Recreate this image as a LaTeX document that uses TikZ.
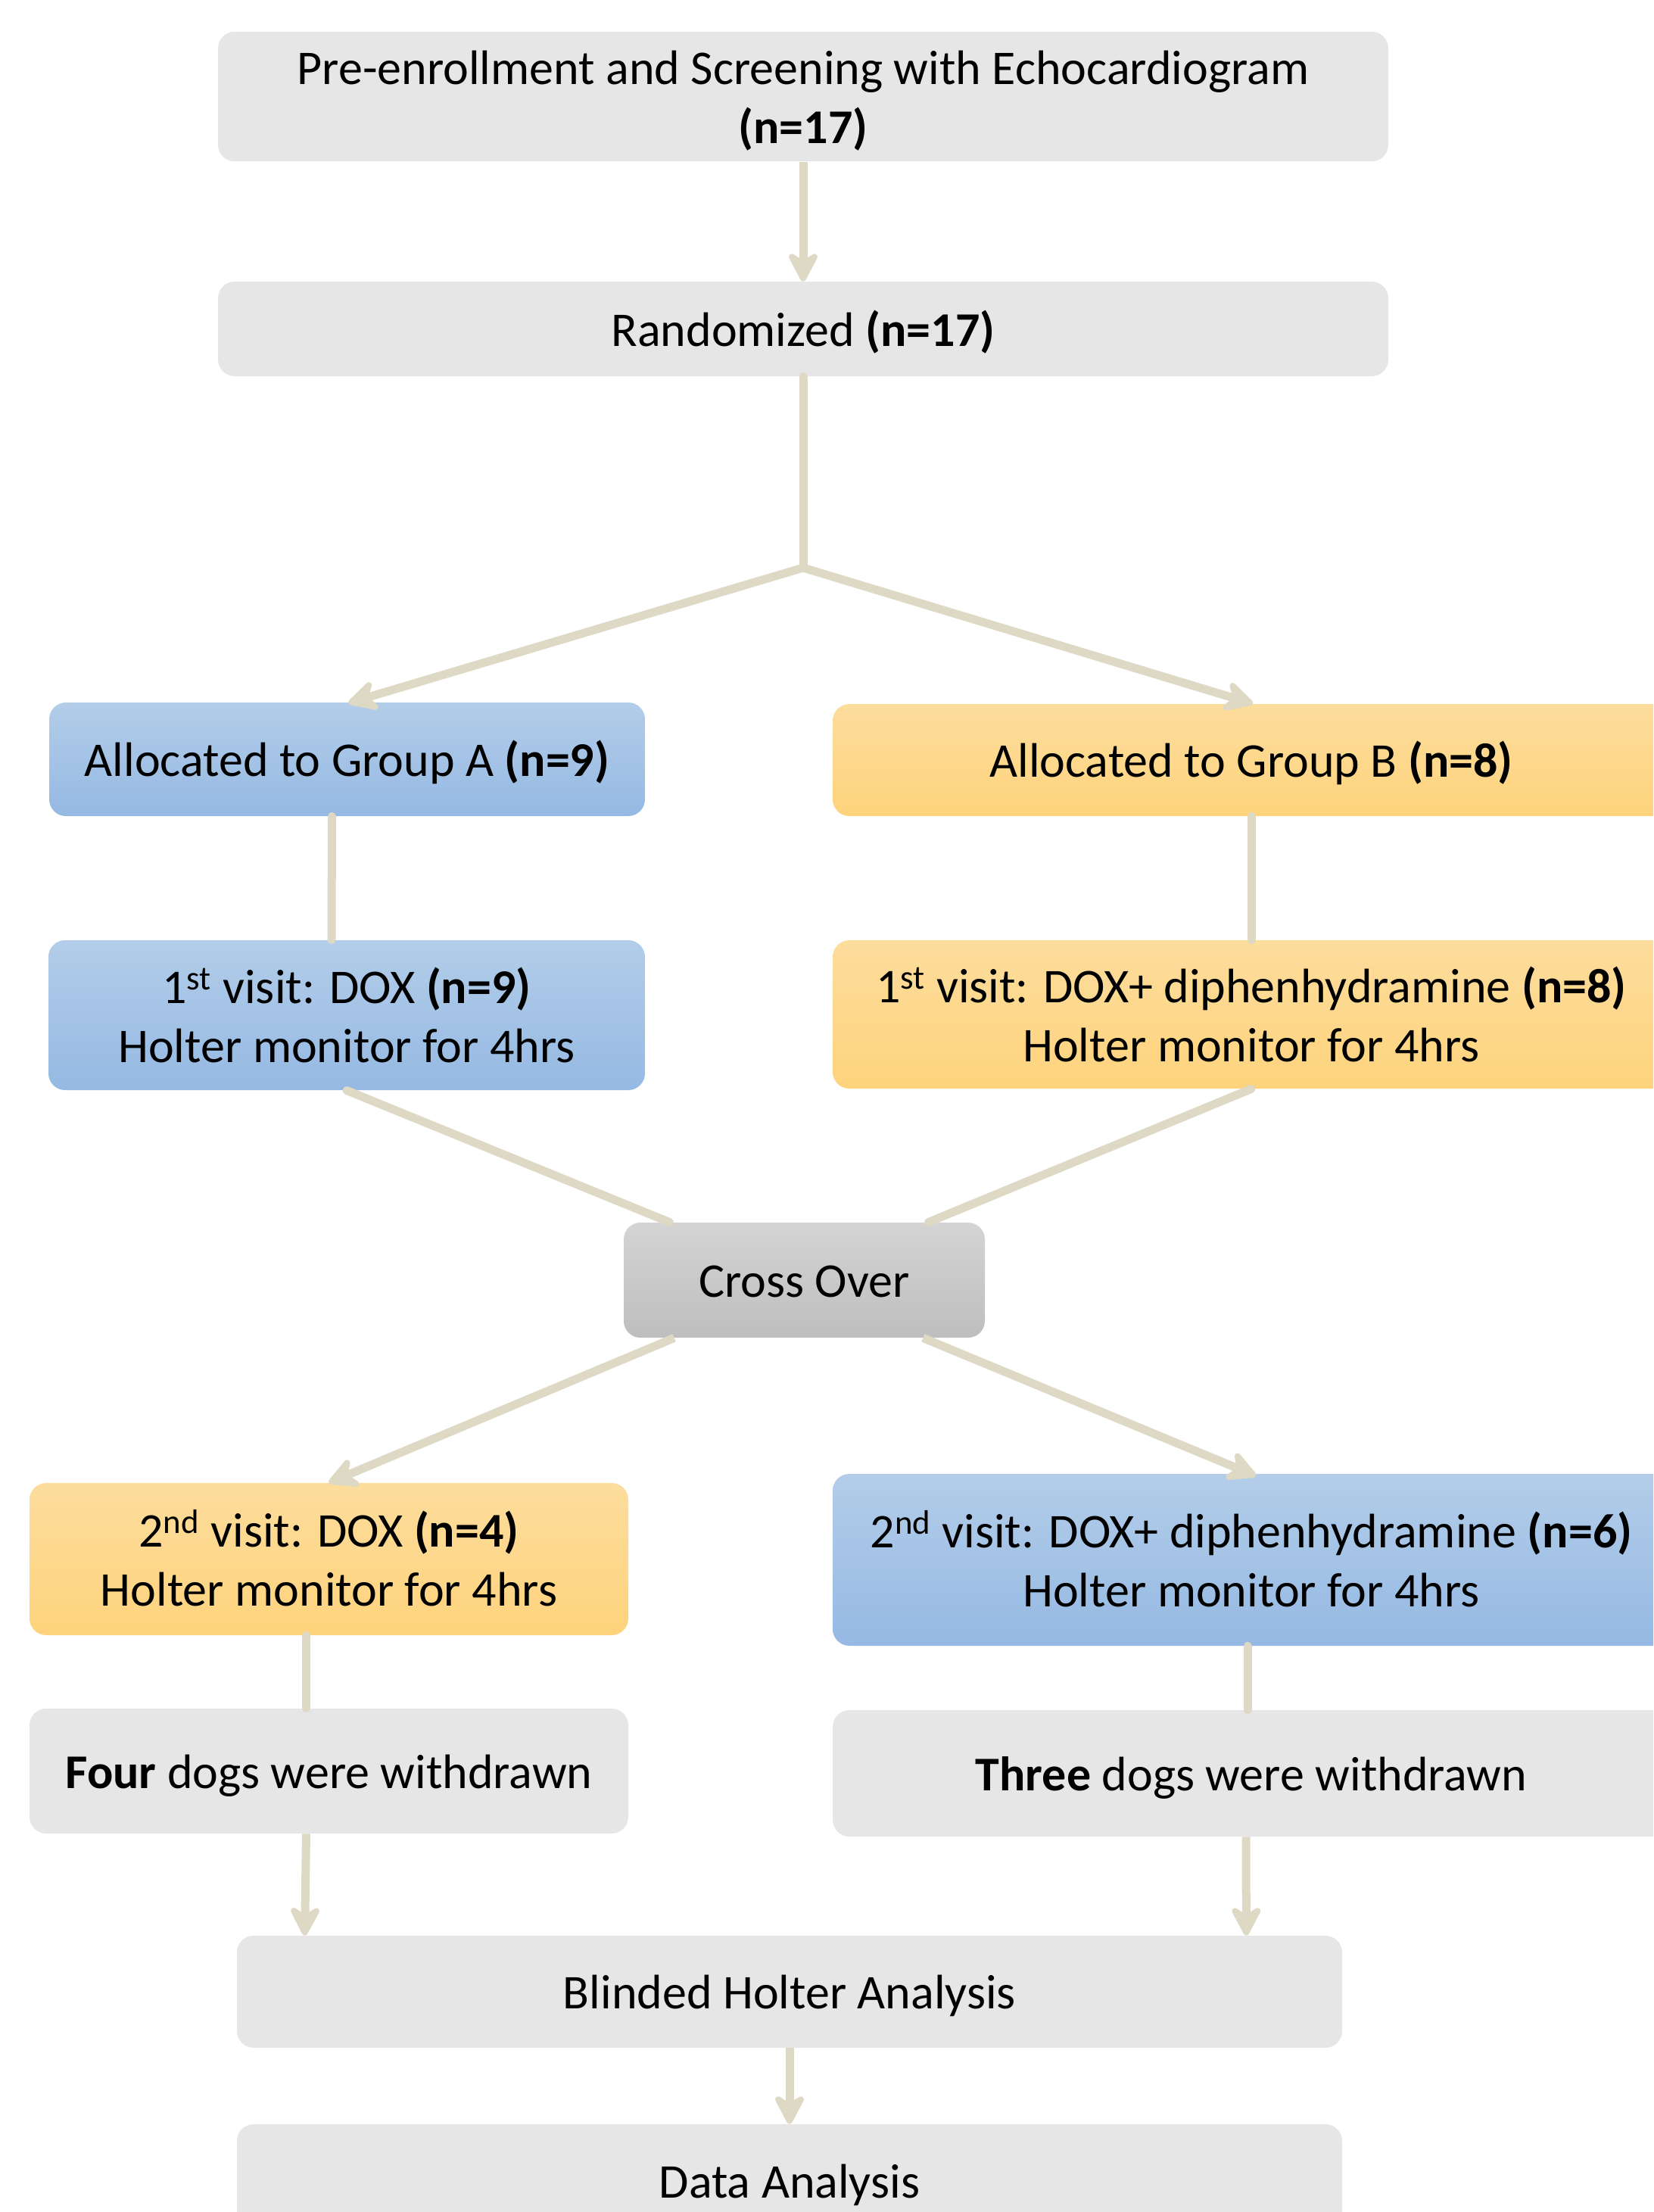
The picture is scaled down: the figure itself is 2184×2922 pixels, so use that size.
\documentclass[tikz,border=0pt]{standalone}
\usepackage{fontspec}
\setmainfont{Carlito}
\usetikzlibrary{arrows.meta}
\definecolor{conn}{HTML}{DDD9C4}
\definecolor{boxgray}{HTML}{E6E6E6}
\definecolor{blueT}{RGB}{179,205,233}
\definecolor{blueB}{RGB}{149,185,227}
\definecolor{orT}{RGB}{253,221,157}
\definecolor{orB}{RGB}{254,211,124}
\definecolor{crT}{RGB}{212,212,212}
\definecolor{crB}{RGB}{190,190,190}
\newcommand{\bxstrut}{\rule[-8pt]{0pt}{38.6pt}}
\newcommand{\twol}[2]{\begin{tabular}{@{}c@{}}\rule{0pt}{35pt}#1\\#2\end{tabular}}
\begin{document}
\begin{tikzpicture}[x=0.5pt,y=-0.5pt,
 box/.style={rounded corners=11pt, inner sep=0pt, align=center, font=\fontsize{32}{39}\selectfont,
   execute at begin node=\bxstrut, execute at end node=\bxstrut},
 graybox/.style={box, fill=boxgray},
 bluebox/.style={box, top color=blueT, bottom color=blueB},
 orbox/.style={box, top color=orT, bottom color=orB},
 crossbox/.style={box, top color=crT, bottom color=crB},
 conline/.style={draw=conn, line width=5.5pt, line cap=round},
 conarrow/.style={draw=conn, line width=5.5pt, -{Stealth[length=24pt,width=25pt,inset=8pt,round]}},
]
\useasboundingbox (0,0) rectangle (2184,2922);
\clip (0,0) rectangle (2184,2922);

\node[graybox, minimum width=773pt, minimum height=84.5pt] (pre) at (1061,127.5)
  {\twol{Pre-enrollment and Screening with Echocardiogram}{\textbf{(n=17)}}};
\node[graybox, minimum width=773pt, minimum height=62.5pt] (rand) at (1061,434.5)
  {Randomized \textbf{(n=17)}};
\coordinate (junc) at (1061,750);
\node[bluebox, minimum width=393.5pt, minimum height=75pt] (grpA) at (458.5,1003)
  {Allocated to Group A \textbf{(n=9)}};
\node[orbox, minimum width=553pt, minimum height=74pt] (grpB) at (1653,1004)
  {Allocated to Group B \textbf{(n=8)}};
\node[bluebox, minimum width=394pt, minimum height=99pt] (v1A) at (458,1341)
  {\twol{1\textsuperscript{st} visit: DOX \textbf{(n=9)}}{Holter monitor for 4hrs}};
\node[orbox, minimum width=553pt, minimum height=98pt] (v1B) at (1653,1340)
  {\twol{1\textsuperscript{st} visit: DOX+ diphenhydramine \textbf{(n=8)}}{Holter monitor for 4hrs}};
\node[crossbox, minimum width=238.5pt, minimum height=76pt] (cross) at (1062.5,1691)
  {Cross Over};
\node[orbox, minimum width=395.5pt, minimum height=100.5pt] (v2A) at (434.5,2059.5)
  {\twol{2\textsuperscript{nd} visit: DOX \textbf{(n=4)}}{Holter monitor for 4hrs}};
\node[bluebox, minimum width=553pt, minimum height=113.5pt] (v2B) at (1653,2060.5)
  {\twol{2\textsuperscript{nd} visit: DOX+ diphenhydramine \textbf{(n=6)}}{Holter monitor for 4hrs}};
\node[graybox, minimum width=395.5pt, minimum height=82.5pt] (fourw) at (434.5,2339.5)
  {\textbf{Four} dogs were withdrawn};
\node[graybox, minimum width=553pt, minimum height=83.5pt] (threew) at (1653,2342.5)
  {\textbf{Three} dogs were withdrawn};
\node[graybox, minimum width=730pt, minimum height=74pt] (blind) at (1043,2631)
  {Blinded Holter Analysis};
\node[graybox, minimum width=730pt, minimum height=75pt] (data) at (1043,2881)
  {Data Analysis};

\draw[conarrow] (pre.south) -- (rand.north);
\draw[conline] (rand.south) -- (junc);
\draw[conarrow, line join=round] (junc) -- ([xshift=1pt,yshift=-0.5pt]grpA.north);
\draw[conarrow] (junc) -- ([xshift=1pt]grpB.north);
\draw[conline] ([xshift=-10pt]grpA.south) -- ([xshift=-10pt]v1A.north);
\draw[conline] (grpB.south) -- (v1B.north);
\draw[conline] (v1A.south) -- ([xshift=30.5pt]cross.north west);
\draw[conline] (v1B.south) -- ([xshift=-37.5pt]cross.north east);
\draw[conarrow] ([xshift=33.5pt]cross.south west) -- (v2A.north);
\draw[conarrow] ([xshift=-41pt]cross.south east) -- ([xshift=3pt,yshift=-1.5pt]v2B.north);
\draw[conline] ([xshift=-15pt]v2A.south) -- ([xshift=-15pt]fourw.north);
\draw[conline] ([xshift=-2.5pt]v2B.south) -- ([xshift=-2.5pt]threew.north);
\draw[conarrow] ([xshift=-15pt]fourw.south) -- ([xshift=45pt]blind.north west);
\draw[conarrow] ([xshift=-3.5pt]threew.south) -- ([xshift=-63.5pt]blind.north east);
\draw[conarrow] (blind.south) -- (data.north);
\end{tikzpicture}
\end{document}
